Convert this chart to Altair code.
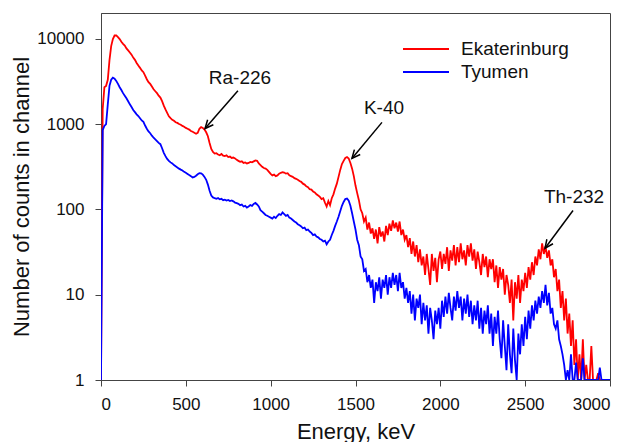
import altair as alt
import pandas as pd

# Energy grid (keV), 10 keV per point
energy = [i * 10 for i in range(301)]

ekaterinburg = [
    1, 1500, 2700, 2800, 3300, 5600, 8200, 9900, 10900, 10900,
    10400, 9900, 9200, 8700, 8300, 7700, 7300, 6900, 6500, 6000,
    5650, 5200, 4850, 4550, 4250, 4050, 3700, 3350, 3100, 2950,
    2750, 2550, 2420, 2300, 2150, 2040, 1850, 1640, 1480, 1350,
    1230, 1170, 1120, 1090, 1050, 1030, 1000, 980, 950, 930,
    900, 880, 860, 830, 810, 790, 770, 790, 880, 920,
    900, 860, 800, 720, 600, 510, 470, 450, 455, 440,
    430, 445, 425, 420, 430, 410, 415, 400, 405, 395,
    380, 370, 360, 365, 350, 355, 345, 350, 360, 355,
    365, 375, 370, 345, 330, 315, 305, 300, 290, 275,
    260, 250, 255, 245, 250, 262, 268, 272, 270, 262,
    265, 250, 245, 240, 232, 228, 222, 215, 210, 200,
    195, 186, 182, 172, 170, 162, 158, 150, 145, 140,
    132, 135, 120, 108, 125, 112, 135, 150, 175, 200,
    240, 290, 340, 370, 400, 410, 395, 350, 300, 245,
    190, 155, 128, 100, 90, 72, 80, 58, 70, 52,
    60, 45, 58, 40, 62, 48, 55, 42, 64, 50,
    68, 56, 74, 60, 70, 55, 72, 50, 58, 44,
    50, 36, 46, 30, 42, 28, 38, 24, 34, 22,
    28, 17, 30, 20, 13, 30, 19, 27, 14, 26,
    32, 20, 30, 23, 36, 19, 33, 25, 38, 22,
    36, 24, 40, 26, 33, 22, 38, 28, 40, 25,
    34, 20, 32, 24, 17, 30, 21, 28, 16, 26,
    20, 26, 14, 22, 12, 21, 15, 20, 10, 17,
    13, 8, 15, 5, 14, 9, 17, 8, 15, 11,
    18, 12, 21, 15, 24, 17, 28, 22, 34, 26,
    40, 30, 37, 27, 33, 22, 26, 16, 20, 11,
    15, 7, 11, 5, 9, 3.5, 6, 2.5, 5, 1.5,
    3, 1, 2, 1, 3, 1, 1.5, 1, 1, 2.5,
    1, 1, 1, 1.2, 1, 1, 1, 1, 1, 1,
    1,
]

tyumen = [
    1, 850, 950, 1000, 1700, 2800, 3300, 3500, 3400, 3200,
    2950, 2700, 2500, 2300, 2150, 2000, 1850, 1700, 1580, 1460,
    1380, 1300, 1240, 1170, 1100, 1060, 960, 880, 820, 780,
    730, 690, 660, 630, 600, 580, 520, 460, 420, 390,
    370, 355, 345, 330, 320, 310, 300, 292, 285, 275,
    268, 260, 252, 245, 236, 240, 248, 258, 266, 264,
    255, 240, 222, 195, 165, 145, 138, 135, 133, 136,
    131, 133, 128, 130, 127, 129, 125, 127, 124, 120,
    118, 116, 112, 114, 108, 110, 105, 108, 112, 110,
    116, 119, 114, 108, 98, 94, 90, 86, 84, 82,
    80, 78, 82, 79, 84, 88, 86, 92, 88, 84,
    86, 80, 78, 75, 72, 70, 67, 65, 63, 60,
    61, 57, 58, 55, 53, 50, 51, 48, 47, 45,
    44, 42, 43, 39, 42, 44, 50, 56, 64, 72,
    82, 95, 110, 122, 132, 134, 126, 110, 90, 72,
    58, 44, 38, 28, 26, 19, 20, 14, 17, 12,
    15, 8, 14, 11, 16, 9, 15, 12, 17, 10,
    16, 12, 18, 13, 17, 11, 18, 12, 14, 9,
    12, 8, 11, 6, 10, 5, 9, 7, 10, 4.5,
    8, 5, 7.5, 3.5, 7, 5, 3, 6.5, 4.5, 7,
    4, 8.5, 5.5, 9.5, 6, 10.5, 7, 5, 9.5, 6.5,
    11, 7, 9.5, 5, 9, 6, 10, 5.5, 8.5, 4.5,
    7.5, 5, 8.5, 4, 7, 3.5, 6.5, 4.5, 7.5, 3.5,
    6, 2.5, 5.5, 3.5, 6.5, 3, 1.8, 5, 2.5, 1.3,
    4.5, 2, 1.2, 4, 1.7, 1, 3.5, 2, 4.5, 2.5,
    5.5, 3, 6.5, 4, 7.5, 5, 8.5, 6, 9.5, 7,
    11, 8, 13, 7.5, 10.5, 6, 7, 4.5, 4, 5,
    3, 2.5, 2, 1.5, 1, 1.3, 1, 2, 1, 1,
    1.6, 1, 1, 1, 1.8, 1, 1, 1, 1, 1,
    1, 1, 1, 1, 1.4, 1, 1, 1, 1, 1,
    1,
]

series_names = ["Ekaterinburg", "Tyumen"]
series_colors = ["#ff0000", "#0000ff"]

# Annotations (peak labels with arrows)
ann_labels = ["Ra-226", "K-40", "Th-232"]
ann_text_energy = [819, 1668, 2788]
ann_text_counts = [3500, 1520, 138]
arrow_start_energy = [807, 1656, 2782]
arrow_start_counts = [2460, 1045, 97]
arrow_tip_energy = [613, 1479, 2617]
arrow_tip_counts = [885, 395, 35]
arrow_angle = [131, 130, 126]

x_ticks = [0, 500, 1000, 1500, 2000, 2500, 3000]
y_ticks = [1, 10, 100, 1000, 10000]

FONT = "Liberation Sans"

df = pd.DataFrame({
    "Energy": energy * 2,
    "Counts": ekaterinburg + tyumen,
    "Site": [series_names[0]] * len(energy) + [series_names[1]] * len(energy),
})

ann = pd.DataFrame({
    "label": ann_labels,
    "tx": ann_text_energy,
    "ty": ann_text_counts,
    "x0": arrow_start_energy,
    "y0": arrow_start_counts,
    "x1": arrow_tip_energy,
    "y1": arrow_tip_counts,
    "angle": arrow_angle,
})

x_scale = alt.Scale(domain=[0, 3000], nice=False)
y_scale = alt.Scale(type="log", domain=[1, 20000], nice=False)

x_axis = alt.Axis(
    title="Energy, keV", values=x_ticks, format="d", grid=False,
    labelFontSize=17, titleFontSize=22, labelFont=FONT, titleFont=FONT,
    titleFontWeight="normal", labelColor="#111", titleColor="#111",
    tickSize=6, labelPadding=10, titlePadding=9,
    domainColor="#444", tickColor="#444",
)
y_axis = alt.Axis(
    title="Number of counts in channel", values=y_ticks, format="d", grid=False,
    labelFontSize=17, titleFontSize=22, labelFont=FONT, titleFont=FONT,
    titleFontWeight="normal", labelColor="#111", titleColor="#111",
    tickSize=6, labelPadding=11, titlePadding=3,
    domainColor="#444", tickColor="#444",
)

lines = alt.Chart(df).mark_line(strokeWidth=1.8, clip=True).encode(
    x=alt.X("Energy:Q", scale=x_scale, axis=x_axis),
    y=alt.Y("Counts:Q", scale=y_scale, axis=y_axis),
    color=alt.Color(
        "Site:N",
        scale=alt.Scale(domain=series_names, range=series_colors),
        sort=series_names,
        legend=alt.Legend(
            title=None, orient="none", legendX=314, legendY=25,
            symbolType="M-2.3,0L2.3,0", symbolSize=400, symbolStrokeWidth=2,
            labelOffset=24, labelFontSize=19, labelFont=FONT, labelColor="#111",
            rowPadding=2, padding=0,
        ),
    ),
    order=alt.Order("Energy:Q"),
)

arrow_lines = alt.Chart(ann).mark_rule(color="black", strokeWidth=1.5).encode(
    x=alt.X("x0:Q", scale=x_scale),
    y=alt.Y("y0:Q", scale=y_scale),
    x2="x1:Q",
    y2="y1:Q",
)

arrow_heads = alt.Chart(ann).mark_point(
    shape="M-1.1,-0.5L0,0L-1.1,0.5", size=230, filled=False,
    color="black", strokeWidth=1.5, opacity=1,
).encode(
    x=alt.X("x1:Q", scale=x_scale),
    y=alt.Y("y1:Q", scale=y_scale),
    angle=alt.Angle("angle:Q", scale=None),
)

texts = alt.Chart(ann).mark_text(
    fontSize=19, font=FONT, color="#111", align="center", baseline="middle",
).encode(
    x=alt.X("tx:Q", scale=x_scale),
    y=alt.Y("ty:Q", scale=y_scale),
    text="label:N",
)

chart = alt.layer(lines, arrow_lines, arrow_heads, texts).properties(
    width=509, height=367,
    autosize=alt.AutoSizeParams(type="none"),
    padding={"left": 93, "top": 5, "right": 14, "bottom": 62},
).configure_view(
    stroke="#444", strokeWidth=1,
)

chart.save("out.html", embed_options={"renderer": "svg", "actions": False})
